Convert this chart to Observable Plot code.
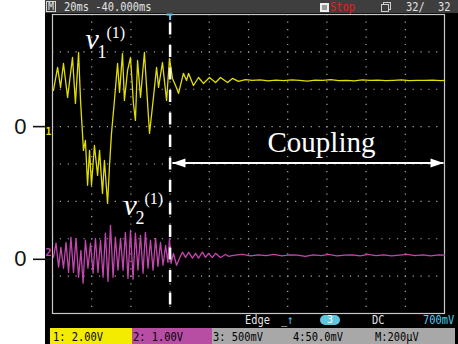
<!DOCTYPE html>
<html><head><meta charset="utf-8">
<script src="https://cdn.jsdelivr.net/npm/d3@7"></script>
<script src="https://cdn.jsdelivr.net/npm/@observablehq/plot@0.6"></script>
<style>
html,body{margin:0;padding:0;background:#fff;}
#wrap{position:relative;width:458px;height:344px;overflow:hidden;background:#fff;font-family:"DejaVu Sans Mono","Liberation Mono",monospace;}
.a{position:absolute;}
.t{position:absolute;font-size:12.5px;line-height:13px;white-space:pre;color:#e4e4e4;transform:scaleX(0.83);transform-origin:0 0;}
.b{position:absolute;top:328px;height:16px;}
.bt{position:absolute;top:329px;font-size:12.5px;line-height:15px;white-space:pre;color:#000;transform:scaleX(0.83);transform-origin:0 0;}
</style>
</head><body>
<div id="wrap">
  <div class="a" style="left:45px;top:0;width:413px;height:344px;background:#000;"></div>
  <div class="a" style="left:45px;top:0;width:413px;height:13px;background:#3e3e3e;"></div>
  <div class="a" style="left:46px;top:1px;width:8px;height:9px;border:1px solid #d8d8d8;font-size:10px;line-height:9px;color:#e4e4e4;text-align:center;">M</div>
  <div class="t" style="left:64px;top:0;">20ms -40.000ms</div>
  <div class="a" style="left:320px;top:3px;width:5px;height:5px;border:2px solid #f0f0f0;background:#9a9a9a;"></div>
  <div class="t" style="left:330px;top:0;color:#e41e1e;">Stop</div>
  <div class="a" style="left:383px;top:2px;width:6px;height:6px;border:1px solid #cfcfcf;"></div>
  <div class="a" style="left:381px;top:4px;width:6px;height:6px;border:1px solid #cfcfcf;background:#3e3e3e;"></div>
  <div class="t" style="left:406px;top:0;">32/</div>
  <div class="t" style="left:438px;top:0;">32</div>

  <div class="t" style="left:245px;top:313px;">Edge</div>
  <div class="t" style="left:281px;top:313px;">_<span style="color:#58c8f0">↑</span></div>
  <div class="a" style="left:320px;top:315px;width:20px;height:10px;border-radius:5px;background:#5cc8dc;color:#fff;font-size:10px;line-height:10px;text-align:center;">3</div>
  <div class="t" style="left:372px;top:313px;">DC</div>
  <div class="t" style="left:423px;top:313px;color:#4cd0f0;">700mV</div>

  <div class="b" style="left:50px;width:82px;background:#f4ec00;"></div>
  <div class="b" style="left:132px;width:80px;background:#b84ea4;"></div>
  <div class="b" style="left:212px;width:243px;background:#a8a8a8;"></div>
  <div class="bt" style="left:53px;">1: 2.00V</div>
  <div class="bt" style="left:133px;">2: 1.00V</div>
  <div class="bt" style="left:213px;">3: 500mV</div>
  <div class="bt" style="left:293px;">4:50.0mV</div>
  <div class="bt" style="left:375px;">M:200µV</div>
</div>
<script>
// ---- data ----
// Screen: 10 horizontal divisions at 20 ms/div, trigger 3 div from left
const timeDomainMs = [-60, 140];
const divDomain = [-4, 4];
const timeGridMs = [-40, -20, 0, 20, 40, 60, 80, 100, 120];
const divGrid = [-3, -2, -1, 0, 1, 2, 3];

// channels: volts per division and zero-level offset (divisions from centre)
const channelIds = ["1", "2"];
const channelVoltsPerDiv = [2, 1];
const channelOffsetDiv = [1, -2.55];
const channelColors = ["#e2de00", "#c446b0"];

// channel 1 trace: [time ms, volts]
const ch1Trace = [
 [-59.5,1.94],[-57.4,3.17],[-55.9,2.10],[-54.4,3.38],[-52.3,1.56],[-49.8,3.70],[-48.3,1.24],[-46.7,3.97],
 [-45.7,1.40],[-44.2,-1.27],[-43.2,-0.74],[-42.1,-3.14],[-41.1,-1.27],[-40.1,-3.14],[-38.6,-1.01],[-37.0,-2.61],
 [-36.0,-1.27],[-34.5,-3.57],[-33.5,-1.81],[-31.9,-4.11],[-30.9,-2.07],[-29.9,-0.36],[-28.4,1.40],[-26.8,3.38],
 [-25.8,1.83],[-24.3,3.91],[-23.3,1.40],[-21.7,3.01],[-20.2,3.70],[-18.7,1.24],[-17.7,0.33],[-16.6,3.54],
 [-15.1,1.56],[-13.1,3.97],[-12.0,2.10],[-10.5,-0.36],[-8.5,1.56],[-6.9,3.17],[-5.9,2.10],[-3.9,3.43],
 [-1.8,1.40],[-0.3,3.65],
 [1.2,2.58],[2.8,2.20],[4.3,1.78],[6.8,2.85],[8.4,2.47],[9.4,2.85],[11.9,2.20],[14.5,2.63],[17.0,2.31],
 [20.1,2.63],[23.2,2.36],[25.7,2.63],[29.3,2.36],[31.8,2.58],[34.9,2.42],[38.5,2.52],
 [42,2.47],[46,2.50],[50,2.45],[54,2.49],[58,2.46],[62,2.50],[66,2.47],[70,2.44],[74,2.49],[78,2.47],
 [82,2.51],[86,2.46],[90,2.48],[94,2.45],[98,2.50],[102,2.47],[106,2.49],[110,2.46],[114,2.48],[118,2.50],
 [122,2.46],[126,2.48],[130,2.47],[134,2.49],[138,2.46],[140,2.48]
];

// channel 2 trace: [time ms, volts]
const ch2Trace = [
 [-59.5,0.05],[-58.2,0.43],[-56.9,-0.21],[-55.7,0.32],[-54.4,-0.24],[-53.1,0.45],[-51.8,-0.35],[-50.6,0.59],
 [-49.3,-0.35],[-48.0,0.56],[-46.7,-0.48],[-45.5,0.24],[-44.4,-0.64],[-43.2,0.51],[-41.9,-0.24],[-40.6,0.43],
 [-39.3,-0.37],[-38.1,0.56],[-36.8,-0.35],[-35.5,0.51],[-34.2,-0.48],[-33.0,0.70],[-31.7,-0.59],[-30.4,0.91],
 [-29.1,-0.48],[-27.9,0.59],[-26.6,-0.29],[-25.3,0.56],[-24.0,-0.29],[-22.8,0.72],[-21.5,-0.51],[-20.2,0.78],
 [-18.9,-0.53],[-17.7,0.70],[-16.4,-0.29],[-15.1,0.64],[-13.8,-0.37],[-12.6,0.72],[-11.3,-0.24],[-10.0,0.51],
 [-8.7,-0.29],[-7.4,0.56],[-6.2,-0.19],[-4.9,0.45],[-3.6,-0.16],[-2.3,0.37],[-1.1,-0.08],[-0.3,0.56],[0.5,-0.11],
 [1.7,0.16],[3.3,-0.16],[4.8,0.03],[6.3,0.19],[7.9,0.05],[9.4,0.19],[11.4,0.03],[13.0,0.16],[14.5,0.03],
 [16.5,0.19],[18.1,0.05],[19.6,0.16],[21.6,0.05],[23.2,0.16],[25.7,0.05],[28.3,0.13],[29.8,0.08],
 [33,0.11],[37,0.13],[41,0.09],[45,0.12],[49,0.10],[53,0.13],[57,0.09],[61,0.12],[65,0.11],[69,0.08],
 [73,0.12],[77,0.10],[81,0.13],[85,0.09],[89,0.11],[93,0.12],[97,0.09],[101,0.13],[105,0.10],[109,0.12],
 [113,0.09],[117,0.11],[121,0.13],[125,0.10],[129,0.12],[133,0.09],[137,0.12],[140,0.11]
];

// annotations (time ms, divisions)
const seriesLabelText = ["v", "v"];
const seriesLabelSub = ["1", "2"];
const seriesLabelSup = ["(1)", "(1)"];
const seriesLabelTime = [-43.2, -23.8];
const seriesLabelDiv = [3.09, -1.37];
const couplingText = "Coupling";
const couplingPos = {t: 49.7, div: 0.31};
const couplingArrow = {t1: 1.2, t2: 139.5, div: 0.03};
const triggerTime = 0;

// ---- build ----
const channels = channelIds.map((id, i) => ({id, vpd: channelVoltsPerDiv[i], offset: channelOffsetDiv[i], color: channelColors[i]}));
const toRows = (trace, ch) => trace.map(([t, v]) => ({t, div: ch.offset + v / ch.vpd}));
const rows1 = toRows(ch1Trace, channels[0]);
const rows2 = toRows(ch2Trace, channels[1]);
const labels = seriesLabelText.map((s, i) => ({s, sub: seriesLabelSub[i], sup: seriesLabelSup[i], t: seriesLabelTime[i], div: seriesLabelDiv[i]}));

const arrowHead = {draw(ctx) { ctx.moveTo(0, 0); ctx.lineTo(-13, -4.5); ctx.lineTo(-13, 4.5); ctx.closePath(); }};
const serif = "Liberation Serif, Times New Roman, serif";

const plot = Plot.plot({
  width: 458, height: 344,
  marginLeft: 52, marginRight: 14, marginTop: 14, marginBottom: 31,
  style: {background: "transparent", position: "absolute", left: "0px", top: "0px", overflow: "visible"},
  x: {domain: timeDomainMs, axis: null},
  y: {domain: divDomain, axis: null},
  marks: [
    Plot.ruleX(timeGridMs, {stroke: "#a8a8a8", strokeWidth: 1.2, strokeDasharray: "1.2,6.28"}),
    Plot.ruleY(divGrid, {stroke: "#a8a8a8", strokeWidth: 1.2, strokeDasharray: "1.2,6.64"}),
    Plot.frame({stroke: "#c8c8c8", strokeWidth: 1.2}),
    Plot.axisY({ticks: channels.map(c => c.offset), tickSize: 19, tickPadding: 7, tickFormat: () => "0",
      fontSize: 22, fontFamily: "Liberation Sans, Arial, sans-serif", stroke: "#111", fill: "#111", strokeWidth: 1.6, label: null}),
    Plot.text([channels[0]], {x: timeDomainMs[0], y: "offset", text: "id", fill: "color", dx: -4, dy: 1, lineAnchor: "top", fontSize: 10, fontWeight: "bold", fontFamily: "DejaVu Sans Mono, monospace"}),
    Plot.text([channels[1]], {x: timeDomainMs[0], y: "offset", text: "id", fill: "color", dx: -4, dy: -3, lineAnchor: "bottom", fontSize: 10, fontWeight: "bold", fontFamily: "DejaVu Sans Mono, monospace"}),
    Plot.line(rows2, {x: "t", y: "div", stroke: channels[1].color, strokeWidth: 1.3}),
    Plot.line(rows1, {x: "t", y: "div", stroke: channels[0].color, strokeWidth: 1.3}),
    Plot.ruleX([triggerTime], {stroke: "#fff", strokeWidth: 2.5, strokeDasharray: "12,10.5", strokeDashoffset: 14}),
    Plot.ruleX([triggerTime], {y1: divDomain[1], y2: divDomain[1] - 0.16, stroke: "#5cc8e8", strokeWidth: 2}),
    Plot.ruleY([divDomain[1]], {x1: triggerTime - 1.6, x2: triggerTime + 1.6, stroke: "#5cc8e8", strokeWidth: 2}),
    Plot.link([couplingArrow], {x1: "t1", x2: "t2", y1: "div", y2: "div", stroke: "#fff", strokeWidth: 2}),
    Plot.dot([couplingArrow], {x: "t2", y: "div", symbol: arrowHead, fill: "#fff", stroke: "none", r: 5}),
    Plot.dot([couplingArrow], {x: "t1", y: "div", symbol: arrowHead, fill: "#fff", stroke: "none", r: 5, rotate: 180}),
    Plot.text([couplingPos], {x: "t", y: "div", text: () => couplingText, fill: "#fff", fontSize: 29, fontFamily: serif, textAnchor: "start", lineAnchor: "bottom"}),
    Plot.text(labels, {x: "t", y: "div", text: "s", fill: "#fff", fontSize: 30, fontStyle: "italic", fontFamily: serif, textAnchor: "start", lineAnchor: "bottom"}),
    Plot.text(labels, {x: "t", y: "div", text: "sub", fill: "#fff", fontSize: 18, fontFamily: serif, textAnchor: "start", lineAnchor: "bottom", dx: 12, dy: 9}),
    Plot.text(labels, {x: "t", y: "div", text: "sup", fill: "#fff", fontSize: 16, fontFamily: serif, textAnchor: "start", lineAnchor: "bottom", dx: 21, dy: -11})
  ]
});
document.getElementById("wrap").appendChild(plot);
</script>
</body></html>
